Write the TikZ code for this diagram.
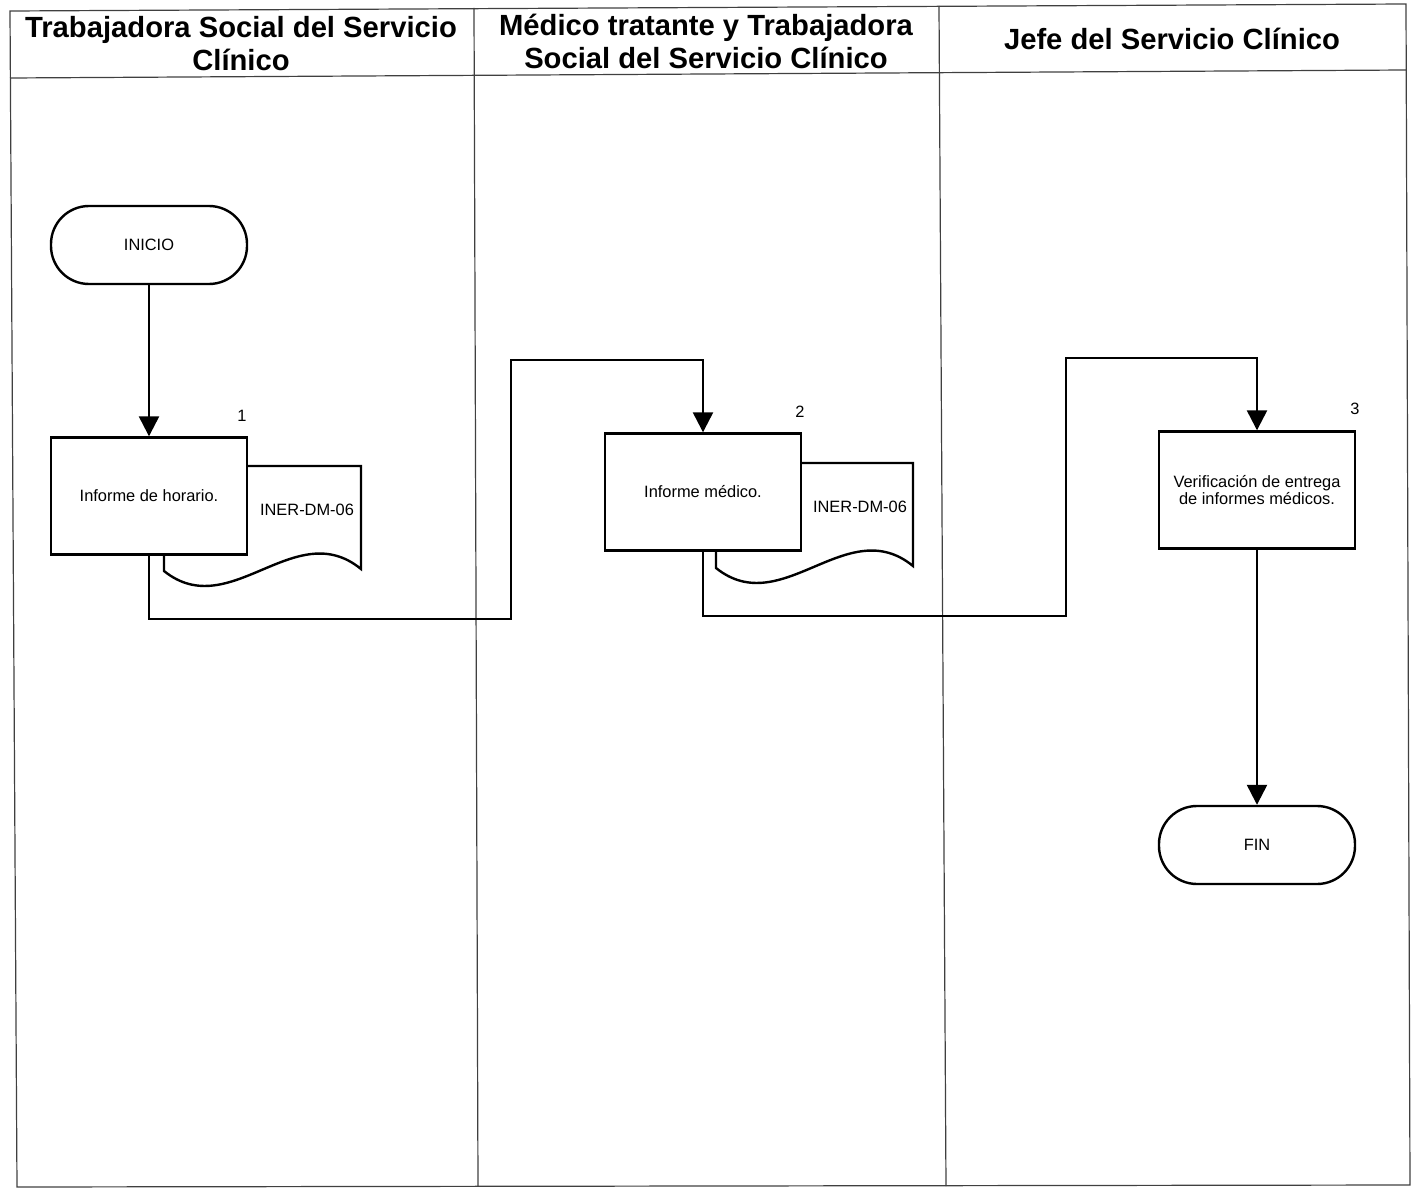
\documentclass[tikz,border=0pt]{standalone}
\usepackage{fontspec}
\setmainfont{Liberation Sans}
\usetikzlibrary{arrows.meta}
\begin{document}
\begin{tikzpicture}[x=0.5pt,y=-0.5pt,
  frame/.style={draw=black!75, line width=0.6pt},
  lanehead/.style={font=\fontsize{14.6}{16.5}\selectfont\bfseries, align=center, inner sep=0pt},
  proc/.style={draw, line width=1.2pt, fill=white, minimum width=98pt, minimum height=58.5pt,
               font=\fontsize{8.2}{7.4}\selectfont, align=center, inner sep=0pt},
  term/.style={draw, line width=1.2pt, fill=white, rounded corners=19pt,
               minimum width=98pt, minimum height=39pt, font=\fontsize{8.2}{9}\selectfont, inner sep=0pt},
  small/.style={font=\fontsize{8.2}{9}\selectfont, inner sep=0pt},
  flow/.style={line width=1.2pt, -{Triangle[width=10pt,length=10pt]}},
  docpic/.pic={
    \draw[line width=1.2pt, fill=white]
      (0,0) -- (197,0) -- (197,103)
      .. controls (131,49) and (66,158) .. (0,105) -- cycle;
  }
]
% page area
\useasboundingbox (0,0) rectangle (1415,1188);

% swimlane frame
\draw[frame] (10,11) -- (1406,4) -- (1410,1185) -- (17,1187) -- cycle;
\draw[frame] (10,78) -- (1406,70);
\draw[frame] (474,8) -- (478,1186);
\draw[frame] (939,6) -- (946,1186);

% lane titles
\node[lanehead] (h1) at (241,44) {Trabajadora Social del Servicio\\Clínico};
\node[lanehead] (h2) at (706,41) {Médico tratante y Trabajadora\\Social del Servicio Clínico};
\node[lanehead] (h3) at (1172,39) {Jefe del Servicio Clínico};

% documents behind the process boxes
\pic (doc1) at (164,466) {docpic};
\pic (doc2) at (716,463) {docpic};
\node[small] (f1) at (307,510) {INER-DM-06};
\node[small] (f2) at (860,507) {INER-DM-06};

% terminals and process steps
\node[term] (ini) at (149,245) {INICIO};
\node[proc] (b1) at (149,496) {Informe de horario.};
\node[proc] (b2) at (703,492) {Informe médico.};
\node[proc] (b3) at (1257,490) {Verificación de entrega\\de informes médicos.};
\node[term] (fin) at (1257,845) {FIN};

% step numbers
\node[small] (n1) at (242,416) {1};
\node[small] (n2) at (800,412) {2};
\node[small] (n3) at (1355,409) {3};

% connector bends
\coordinate (j1a) at (511,619);
\coordinate (j1b) at (511,360);
\coordinate (j2a) at (1066,616);
\coordinate (j2b) at (1066,358);

% flow
\draw[flow] (ini.south) -- (b1.north);
\draw[flow] (b1.south) |- (j1a) -- (j1b) -| (b2.north);
\draw[flow] (b2.south) |- (j2a) -- (j2b) -| (b3.north);
\draw[flow] (b3.south) -- (fin.north);
\end{tikzpicture}
\end{document}
